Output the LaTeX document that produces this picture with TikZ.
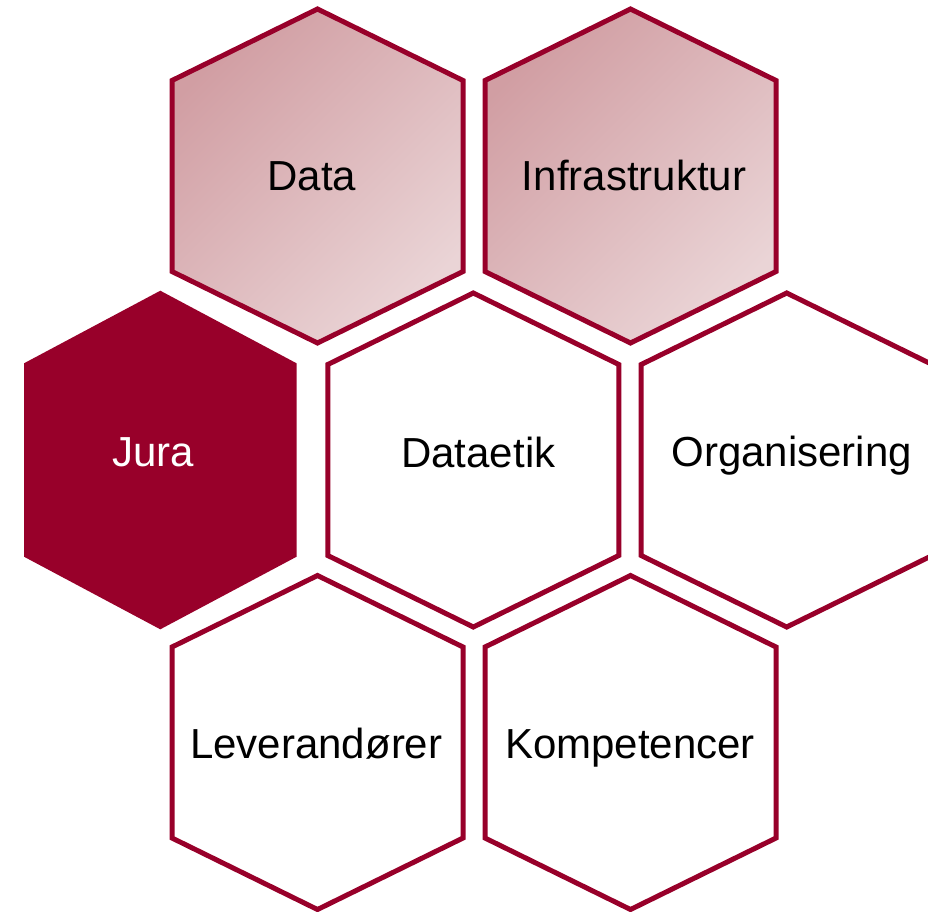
\documentclass[tikz,border=0pt]{standalone}
\usepackage{fontspec}
\setmainfont{Liberation Sans}
\definecolor{jurared}{RGB}{152,0,42}
\definecolor{cellA}{RGB}{209,158,163}
\definecolor{cellB}{RGB}{234,212,214}

% one hexagon, pointy top, centred at (#2,#3)
\newcommand{\hexcell}[3][]{%
  \path[#1, shift={(#2,#3)}] (0,-167) -- (145.5,-95.5) -- (145.5,95.5)
    -- (0,167) -- (-145.5,95.5) -- (-145.5,-95.5) -- cycle;}

\tikzset{
  hexline/.style={draw=jurared, line width=5pt, line join=miter},
  lightcell/.style={hexline, top color=cellA, bottom color=cellB, shading angle=45},
  whitecell/.style={hexline, fill=white},
  celltext/.style={anchor=base, inner sep=0pt, font=\fontsize{42}{48}\selectfont}
}

\begin{document}
\begin{tikzpicture}[x=1pt, y=-1pt]
\useasboundingbox (0,0) rectangle (928,911);

% top row
\hexcell[lightcell]{317.5}{176}
\hexcell[lightcell]{630.5}{176}
% middle row
\fill[jurared] (160.3,290.7) -- (296.6,363.3) -- (296.6,556.7) -- (160.3,629.3)
  -- (24,556.7) -- (24,363.3) -- cycle;
\hexcell[whitecell]{473.3}{460}
\hexcell[whitecell]{786.7}{460}
% bottom row
\hexcell[whitecell]{317.5}{742.5}
\hexcell[whitecell]{630.5}{742.5}

\begin{scope}[every node/.style={celltext}]
\node (data) at (311.7,190) {Data};
\node (infra) at (634,190.5) {Infrastruktur};
\node[text=white] (jura) at (153.3,466.5) {Jura};
\node (etik) at (478.3,467.5) {Dataetik};
\node (org) at (791.7,466) {Organisering};
\node (lev) at (316.3,758.3) {Leverandører};
\node (komp) at (630,758.3) {Kompetencer};
\end{scope}
\end{tikzpicture}
\end{document}
